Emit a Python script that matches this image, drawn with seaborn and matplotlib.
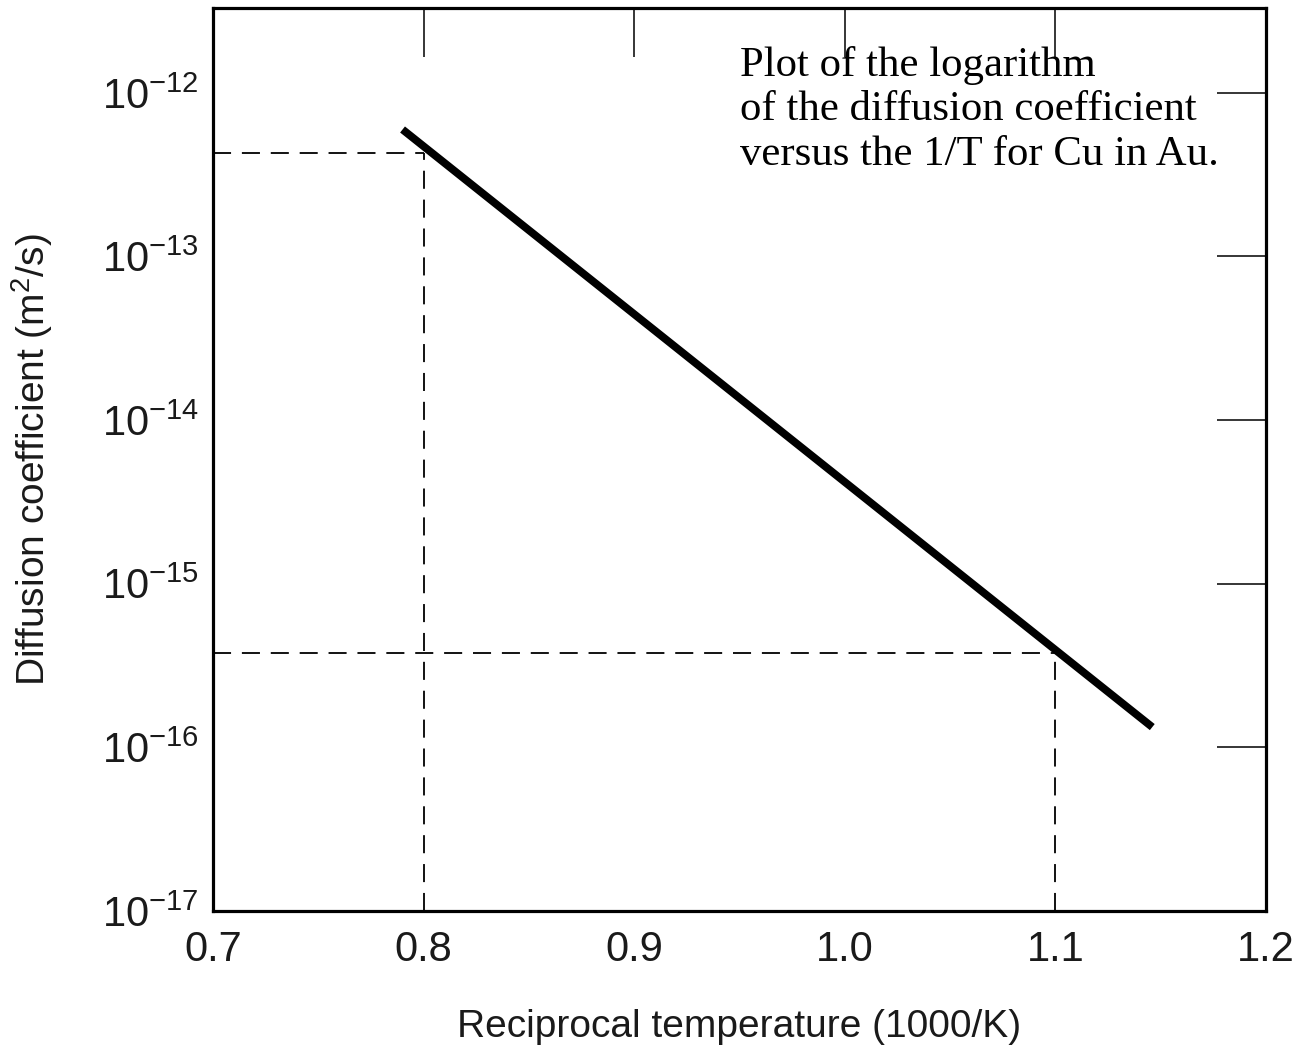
import matplotlib.pyplot as plt
import numpy as np
import pandas as pd
import seaborn as sb
from matplotlib.ticker import LogFormatterSciNotation, NullLocator

# values (1/T in 1000/K, D in m^2/s)
inv_temp = [0.79, 1.146]
diff_coef = [5.97e-13, 1.33e-16]

# the two read-off points marked with dashed guides
guide_x = [0.8, 1.1]
guide_y = [4.3e-13, 3.76e-16]

x_ticks = [0.7, 0.8, 0.9, 1.0, 1.1, 1.2]
x_ticklabels = ["0.7", "0.8", "0.9", "1.0", "1.1", "1.2"]
y_ticks = [1e-17, 1e-16, 1e-15, 1e-14, 1e-13, 1e-12]

note = "Plot of the logarithm\nof the diffusion coefficient\nversus the 1/T for Cu in Au."

if __name__ == "__main__":
    sb.set_style("white")
    sans = ["Liberation Sans Narrow", "Liberation Sans", "DejaVu Sans"]
    plt.rcParams["font.family"] = sans
    plt.rcParams["mathtext.default"] = "regular"

    fig = plt.figure(figsize=(13.11, 10.52), dpi=100)
    ax = fig.add_axes([213 / 1311, 1 - 911 / 1052, (1266 - 213) / 1311, (911 - 8) / 1052])

    df = pd.DataFrame({"inv_temp": inv_temp, "D": diff_coef})
    sb.lineplot(data=df, x="inv_temp", y="D", color="black", linewidth=5.6, ax=ax,
                solid_capstyle="butt")

    dash = (0, (10, 6))
    for gx, gy in zip(guide_x, guide_y):
        ax.plot([0.7, gx], [gy, gy], color="black", lw=1.3, linestyle=dash)
        ax.plot([gx, gx], [1e-17, gy], color="black", lw=1.3, linestyle=dash)

    ax.set_yscale("log")
    ax.set_xlim(0.7, 1.2)
    ax.set_ylim(1e-17, 3.3e-12)
    ax.set_xticks(x_ticks)
    ax.set_xticklabels(x_ticklabels)
    ax.set_yticks(y_ticks)
    ax.yaxis.set_major_formatter(LogFormatterSciNotation())
    ax.yaxis.set_minor_locator(NullLocator())

    for s in ax.spines.values():
        s.set_linewidth(2.3)
        s.set_color("black")
    ax.tick_params(which="major", direction="in", length=35, width=1.1, color="black",
                   top=True, right=True, labelsize=30, labelcolor="#1a1a1a")
    ax.tick_params(axis="x", pad=14)
    ax.tick_params(axis="y", pad=10)

    ax.set_xlabel("Reciprocal temperature (1000/K)", fontsize=28, color="#1a1a1a", labelpad=28)
    ax.set_ylabel("Diffusion coefficient (m$^2$/s)", fontsize=28, color="#1a1a1a", labelpad=34)

    ax.text(740 / 1311, 1 - 46 / 1052, note, transform=fig.transFigure, ha="left", va="top",
            fontsize=30.8, family=["Liberation Serif", "DejaVu Serif"], linespacing=1.2,
            color="black")

    fig.savefig("out.png", dpi=100)
